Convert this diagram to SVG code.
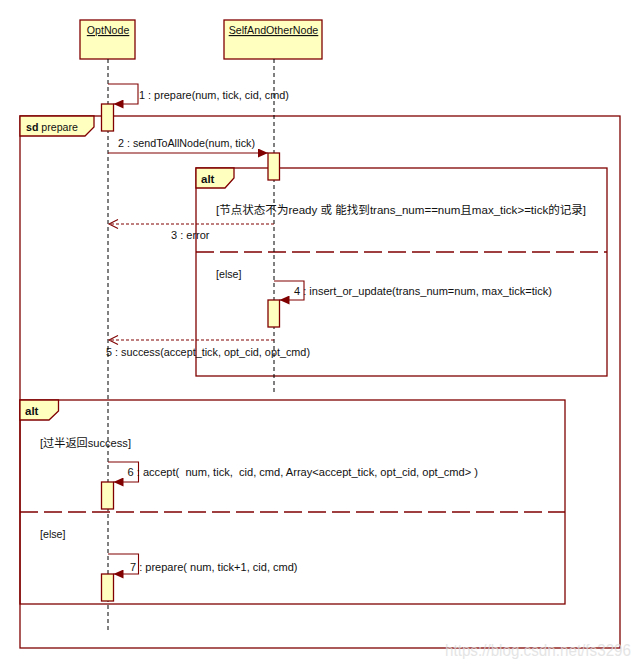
<svg xmlns="http://www.w3.org/2000/svg" width="640" height="668" viewBox="0 0 640 668">
<style>
.box{fill:#FFFFC0;stroke:#800000;stroke-width:1.3}
.frame{fill:none;stroke:#800000;stroke-width:1.3}
.tab{fill:#FFFFC0;stroke:#800000;stroke-width:1.3}
.sep{stroke:#800000;stroke-width:1.3;stroke-dasharray:18,6;fill:none}
.life{stroke:#000;stroke-width:1;stroke-dasharray:4,3;fill:none}
.msg{stroke:#800000;stroke-width:1.1;fill:none}
.ret{stroke:#800000;stroke-width:1.1;stroke-dasharray:3,2;fill:none}
.t{font-family:"Liberation Sans","Noto Sans CJK SC",sans-serif;font-size:11.5px;fill:#111}
.b{font-weight:bold}
.u{text-decoration:underline}
.wm{font-family:"Liberation Sans",sans-serif;font-size:16px;fill:#dcdcdc;opacity:0.75}
</style>
<defs>
<marker id="fill" markerWidth="11" markerHeight="9" refX="10" refY="4.5" orient="auto" markerUnits="userSpaceOnUse">
<path d="M0,0 L10,4.5 L0,9 Z" fill="#800000"/>
</marker>
<marker id="open" markerWidth="12" markerHeight="11" refX="10" refY="5" orient="auto" markerUnits="userSpaceOnUse">
<path d="M1,0.5 L10,5 L1,9.5" fill="none" stroke="#800000" stroke-width="1.1"/>
</marker>
</defs>

<!-- frames -->
<g id="frame-sd">
<rect class="frame" x="20" y="116" width="600" height="532"/>
<path class="tab" d="M20,116 H94 V127 L85,136 H20 Z"/>
<text class="t" x="26" y="131" textLength="52" lengthAdjust="spacingAndGlyphs"><tspan class="b">sd</tspan> prepare</text>
</g>
<g id="frame-alt1">
<rect class="frame" x="196" y="168" width="411" height="208"/>
<path class="tab" d="M196,168 H234 V178 L225,188 H196 Z"/>
<text class="t b" x="201" y="183">alt</text>
<line class="sep" x1="196" y1="252" x2="607" y2="252"/>
<text class="t" x="216" y="214" textLength="370" lengthAdjust="spacingAndGlyphs">[节点状态不为ready 或 能找到trans_num==num且max_tick&gt;=tick的记录]</text>
<text class="t" x="216" y="278" textLength="25.5" lengthAdjust="spacingAndGlyphs">[else]</text>
</g>
<g id="frame-alt2">
<rect class="frame" x="20" y="400" width="545" height="204"/>
<path class="tab" d="M20,400 H58.5 V411 L49,420 H20 Z"/>
<text class="t b" x="25" y="415">alt</text>
<line class="sep" x1="20" y1="512" x2="565" y2="512"/>
<text class="t" x="40" y="446.5" textLength="91" lengthAdjust="spacingAndGlyphs">[过半返回success]</text>
<text class="t" x="40" y="538" textLength="25.5" lengthAdjust="spacingAndGlyphs">[else]</text>
</g>

<!-- lifeline nodes -->
<g id="OptNode">
<rect class="box" x="80" y="20" width="55" height="39"/>
<line class="life" x1="108" y1="59" x2="108" y2="633"/>
<text class="t u" x="86.8" y="34" textLength="42.5" lengthAdjust="spacingAndGlyphs">OptNode</text>
</g>
<g id="SelfAndOtherNode">
<rect class="box" x="224" y="20" width="98" height="39"/>
<line class="life" x1="274" y1="59" x2="274" y2="393"/>
<text class="t u" x="228.7" y="34" textLength="89.6" lengthAdjust="spacingAndGlyphs">SelfAndOtherNode</text>
</g>

<!-- connectors -->
<g id="connectors">
<path class="msg" d="M108,84 H138 V104 H113.5" marker-end="url(#fill)"/>
<line class="msg" x1="108" y1="153" x2="268" y2="153" marker-end="url(#fill)"/>
<line class="ret" x1="274" y1="224" x2="109" y2="224" marker-end="url(#open)"/>
<path class="msg" d="M274,281 H304 V300 H279.5" marker-end="url(#fill)"/>
<line class="ret" x1="274" y1="340" x2="109" y2="340" marker-end="url(#open)"/>
<path class="msg" d="M108,462 H138.5 V482 H113.5" marker-end="url(#fill)"/>
<path class="msg" d="M108,554 H138.5 V574 H113.5" marker-end="url(#fill)"/>
</g>

<!-- activations -->
<g id="act-opt-1"><rect class="box" x="101.5" y="104" width="12" height="27"/></g>
<g id="act-self-1"><rect class="box" x="268" y="153" width="11.5" height="27"/></g>
<g id="act-self-2"><rect class="box" x="268" y="300" width="11.5" height="27"/></g>
<g id="act-opt-2"><rect class="box" x="101.5" y="482" width="12" height="27"/></g>
<g id="act-opt-3"><rect class="box" x="101.5" y="574" width="12" height="27"/></g>

<!-- message labels -->
<g id="labels">
<text class="t" x="139" y="99" textLength="150" lengthAdjust="spacingAndGlyphs">1 : prepare(num, tick, cid, cmd)</text>
<text class="t" x="118" y="147" textLength="137" lengthAdjust="spacingAndGlyphs">2 : sendToAllNode(num, tick)</text>
<text class="t" x="171" y="239" textLength="38.5" lengthAdjust="spacingAndGlyphs">3 : error</text>
<text class="t" x="294" y="295" textLength="258" lengthAdjust="spacingAndGlyphs">4 : insert_or_update(trans_num=num, max_tick=tick)</text>
<text class="t" x="106" y="356" textLength="204" lengthAdjust="spacingAndGlyphs">5 : success(accept_tick, opt_cid, opt_cmd)</text>
<text class="t" x="127.5" y="476" textLength="350.5" lengthAdjust="spacingAndGlyphs" xml:space="preserve">6 : accept(  num, tick,  cid, cmd, Array&lt;accept_tick, opt_cid, opt_cmd&gt; )</text>
<text class="t" x="130" y="571" textLength="167.5" lengthAdjust="spacingAndGlyphs">7 : prepare( num, tick+1, cid, cmd)</text>
</g>

<text class="wm" x="445" y="656" textLength="186" lengthAdjust="spacingAndGlyphs">https://blog.csdn.net/fs3296</text>
</svg>
